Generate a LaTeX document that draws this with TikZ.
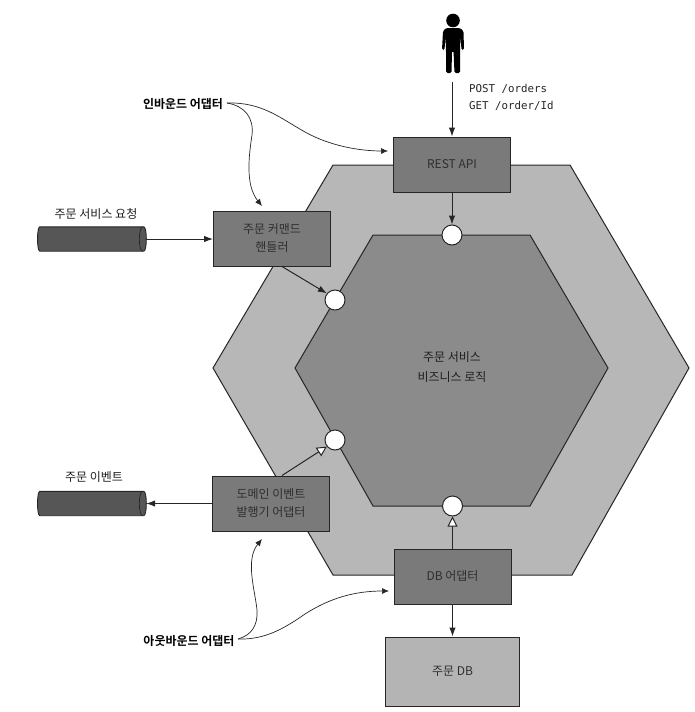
\documentclass[tikz,border=0pt]{standalone}
\usepackage{fontspec}
\setmainfont{Noto Sans CJK KR}
\newfontfamily\boldkr{Noto Sans CJK KR Bold}
\setmonofont{DejaVu Sans Mono}
\usetikzlibrary{arrows.meta}
\definecolor{outerc}{HTML}{B7B7B7}
\definecolor{innerc}{HTML}{8B8B8B}
\definecolor{boxc}{HTML}{7A7A7A}
\definecolor{dbc}{HTML}{B4B4B4}
\definecolor{cylc}{HTML}{565656}
\definecolor{inkc}{HTML}{262626}
\newcommand{\pipeshape}[1]{%
  \draw[inkc,line width=0.9pt,fill=cylc,rounded corners=1pt]
    ([xshift=3pt]#1.north west) .. controls ([xshift=-1pt]#1.north west) and ([xshift=-1pt]#1.south west) .. ([xshift=3pt]#1.south west)
    -- ([xshift=-3.5pt]#1.south east) .. controls ([xshift=1pt]#1.south east) and ([xshift=1pt]#1.north east) .. ([xshift=-3.5pt]#1.north east) -- cycle;
  \draw[inkc,line width=0.7pt] ([xshift=-3.5pt]#1.north east) .. controls ([xshift=-8pt]#1.north east) and ([xshift=-8pt]#1.south east) .. ([xshift=-3.5pt]#1.south east);
}
\tikzset{
  x=1pt,y=-1pt,
  hex/.style={draw=inkc,line width=1pt},
  boxn/.style={draw=inkc,line width=1pt,fill=boxc,minimum width=117pt,minimum height=55pt,inner sep=0pt,align=center,font=\fontsize{12}{18}\selectfont,text=black!82},
  port/.style={circle,draw=inkc,line width=1pt,fill=white,minimum size=20pt,inner sep=0pt},
  pipe/.style={minimum width=108pt,minimum height=24pt,inner sep=0pt},
  lbl/.style={font=\fontsize{12}{14}\selectfont,inner sep=0pt,text=black!88},
  blbl/.style={font=\boldkr\fontsize{12}{14}\selectfont,inner sep=0pt},
  conn/.style={draw=inkc,line width=1pt,-{Latex[length=9pt,width=6.5pt]}},
  openconn/.style={draw=inkc,line width=1pt,-{Triangle[length=10pt,width=10pt,open,fill=white]}},
  curve/.style={draw=inkc,line width=0.7pt,-{Latex[length=7pt,width=6pt]}}
}
\begin{document}
\begin{tikzpicture}
\useasboundingbox (0,0) rectangle (695,712);
\fill[white] (0,0) rectangle (695,712);
% hexagons
\draw[hex,fill=outerc] (213,368)--(333,165)--(570,165)--(689,368)--(572,575)--(333,575)--cycle;
\draw[hex,fill=innerc] (295,368)--(373,235)--(530,235)--(608,368)--(530,506)--(373,506)--cycle;
\node[lbl,align=center,font=\fontsize{12}{20}\selectfont] (core) at (452,367) {주문 서비스\\비즈니스 로직};
% person
\fill[black] (453,20.5) circle (6.8);
\fill[black,rounded corners=1.5pt] (446,28)--(460,28)--(463.5,31)--(464,50)--(461.5,50)--(460.5,36)--(460,50)--(460,73)--(454.5,73)--(453.5,51)--(452,51)--(451.5,73)--(446,73)--(446,50)--(445.5,36)--(444.5,50)--(442,50)--(443,31)--cycle;
\coordinate (personfoot) at (452,82);
\node[font=\ttfamily\fontsize{10.8}{17}\selectfont,align=left,inner sep=0pt,anchor=west,text=black!85] (req) at (469,97) {POST /orders\\GET /order/Id};
% boxes
\node[boxn] (rest) at (452,164.5) {REST API};
\node[boxn] (cmd) at (272,238.5) {주문 커맨드\\핸들러};
\node[boxn] (dom) at (271,503.5) {도메인 이벤트\\발행기 어댑터};
\node[boxn] (dba) at (452.5,576.5) {DB 어댑터};
\node[boxn,fill=dbc,minimum width=134pt,minimum height=69pt] (db) at (452.5,671.5) {주문 DB};
% ports
\node[port] (p1) at (452,235) {};
\node[port] (p2) at (335,300) {};
\node[port] (p3) at (335,440) {};
\node[port] (p4) at (452.5,506) {};
% pipes
\node[pipe] (reqpipe) at (92,239) {};
\node[pipe] (evpipe) at (92,503.5) {};
\pipeshape{reqpipe}
\pipeshape{evpipe}
\node[lbl] (reqlbl) at (96,214) {주문 서비스 요청};
\node[lbl] (evlbl) at (94,477) {주문 이벤트};
% labels
\node[blbl] (inb) at (183,104) {인바운드 어댑터};
\node[blbl] (outb) at (189,641) {아웃바운드 어댑터};
% connectors
\draw[conn] (personfoot) -- (rest.north);
\draw[conn] (rest.south) -- (p1.north);
\draw[conn] (reqpipe.east) -- (cmd.west |- reqpipe.east);
\draw[conn] ([xshift=10pt]cmd.south) -- (p2.141);
\draw[conn] (dom.west) -- (evpipe.east);
\draw[openconn] ([xshift=11pt]dom.north) -- (p3.219);
\draw[openconn] (dba.north) -- (p4.south);
\draw[conn] (dba.south) -- (db.north);
\coordinate (inbfrom) at (227,103);
\coordinate (inbto1) at (388,151);
\coordinate (inbto2) at (262,206);
\coordinate (outfrom) at (238,639);
\coordinate (outto1) at (389,591);
\coordinate (outto2) at (262,539);
\draw[curve] (inbfrom) .. controls (262,102) and (280,118) .. (305,132) .. controls (330,146) and (360,151) .. (inbto1);
\draw[curve] (inbfrom) .. controls (245,106) and (254,118) .. (252,135) .. controls (249,155) and (245,185) .. (inbto2);
\draw[curve] (outfrom) .. controls (265,640) and (285,628) .. (305,614) .. controls (330,598) and (355,591) .. (outto1);
\draw[curve] (outfrom) .. controls (252,635) and (258,625) .. (257,610) .. controls (255,590) and (245,560) .. (outto2);
\end{tikzpicture}
\end{document}
